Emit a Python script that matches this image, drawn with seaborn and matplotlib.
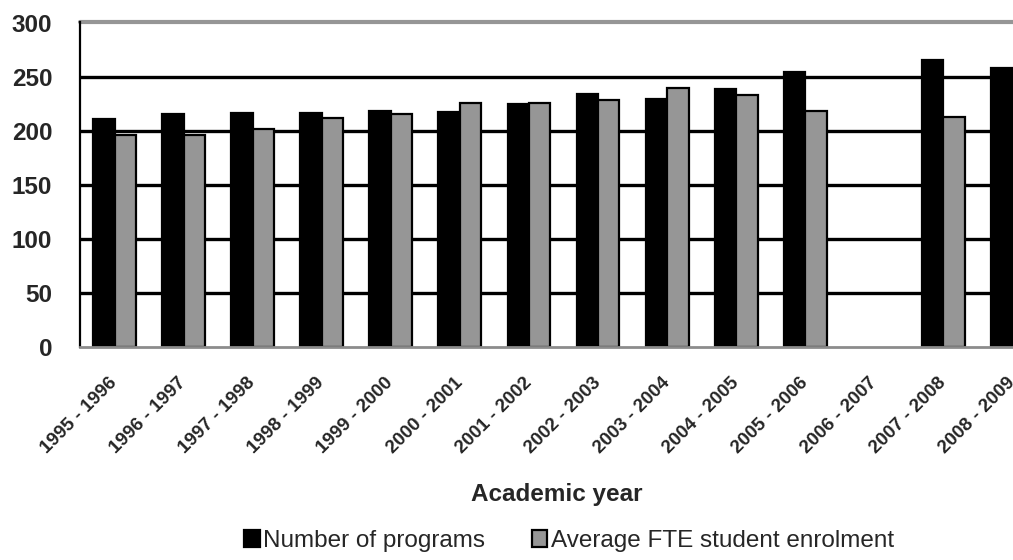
import numpy as np
import pandas as pd
import matplotlib
matplotlib.use("Agg")
import matplotlib.pyplot as plt
import seaborn as sns

# values
years = ["1995 - 1996", "1996 - 1997", "1997 - 1998", "1998 - 1999", "1999 - 2000",
         "2000 - 2001", "2001 - 2002", "2002 - 2003", "2003 - 2004", "2004 - 2005",
         "2005 - 2006", "2006 - 2007", "2007 - 2008", "2008 - 2009"]
programs = [211, 215, 216, 216, 218.5, 217.5, 224.5, 234, 229.5, 238.5, 254, np.nan, 265, 258]
enrolment = [196, 196, 202, 212, 215, 226, 225.5, 228.5, 239.5, 233, 218.5, np.nan, 213, np.nan]
series_names = ["Number of programs", "Average FTE student enrolment"]
yticks = [0, 50, 100, 150, 200, 250, 300]

df = pd.DataFrame({
    "year": years * 2,
    "series": [series_names[0]] * len(years) + [series_names[1]] * len(years),
    "value": programs + enrolment,
})

sns.set_style("white")
plt.rcParams["font.family"] = ["Liberation Sans", "DejaVu Sans"]

fig = plt.figure(figsize=(10.13, 5.6), dpi=100)
# axes runs past the right edge of the figure, like the cropped original
ax = fig.add_axes([80 / 1013, 1 - 347 / 560, 967 / 1013, 324.5 / 560])

sns.barplot(data=df, x="year", y="value", hue="series", order=years,
            hue_order=series_names, palette=["#000000", "#969696"],
            width=0.62, edgecolor="black", linewidth=1.6, errorbar=None, ax=ax)

handles, labels = ax.get_legend_handles_labels()
ax.get_legend().remove()

ax.set_xlim(-0.5, len(years) - 0.5)
ax.set_ylim(0, 300)
ax.set_yticks(yticks)
ax.set_axisbelow(True)
ax.yaxis.grid(True, color="black", linewidth=2.4)
for line, t in zip(ax.get_ygridlines(), yticks):
    if t == 300:
        line.set_color("#969696")
        line.set_linewidth(3.0)
        line.set_clip_on(False)
    if t == 0:
        line.set_visible(False)

for s in ["top", "right"]:
    ax.spines[s].set_visible(False)
ax.spines["left"].set_color("black")
ax.spines["left"].set_linewidth(1.6)
ax.spines["bottom"].set_color("#8c8c8c")
ax.spines["bottom"].set_linewidth(2.0)

ax.tick_params(axis="y", direction="out", length=7, width=1.6, color="black",
               pad=13, labelsize=17.5)
for lab in ax.get_yticklabels():
    lab.set_fontweight("heavy")

# category boundaries carry the x ticks
ax.set_xticks(np.arange(len(years) + 1) - 0.5, minor=True)
ax.tick_params(axis="x", which="minor", direction="out", length=6, width=2, color="black")
ax.tick_params(axis="x", which="major", length=0, pad=24, labelsize=13.5)
ax.set_xticks(range(len(years)))
ax.set_xticklabels(years, rotation=45, ha="right", va="center",
                   rotation_mode="anchor", fontweight="bold")
ax.set_xlabel("")
ax.set_ylabel("")

fig.text(557 / 1013, 1 - 494 / 560, "Academic year", ha="center", va="center",
         fontsize=17.5, fontweight="bold")

fig.legend(handles, labels, loc="center", bbox_to_anchor=(569 / 1013, 1 - 541 / 560),
           ncol=2, frameon=False, fontsize=17.5, handlelength=0.65, handleheight=0.65,
           handletextpad=0.15, columnspacing=1.9)

fig.savefig("out.png", dpi=100)
